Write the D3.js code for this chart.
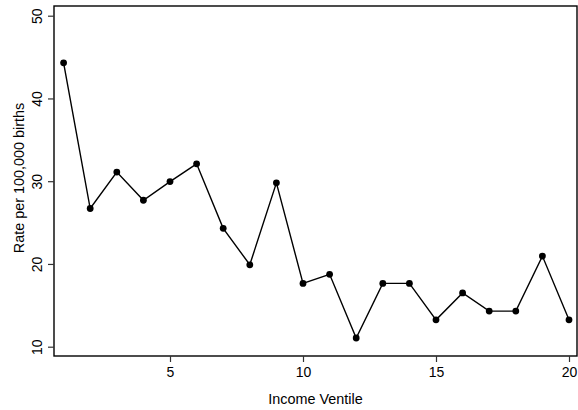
<!DOCTYPE html>
<html>
<head>
<meta charset="utf-8">
<script src="https://cdn.jsdelivr.net/npm/d3@7"></script>
<style>
html,body{margin:0;padding:0;background:#fff;}
svg{display:block;}
text{font-family:"Liberation Sans",Arial,Helvetica,sans-serif;fill:#000;}
</style>
</head>
<body>
<svg id="chart" width="578" height="410"></svg>
<script>
const ventiles = [1,2,3,4,5,6,7,8,9,10,11,12,13,14,15,16,17,18,19,20];
const rates = [44.3,26.7,31.1,27.7,29.95,32.1,24.3,19.9,29.8,17.65,18.75,11.05,17.65,17.65,13.25,16.5,14.3,14.3,20.95,13.25];
const xTicks = [5,10,15,20];
const yTicks = [10,20,30,40,50];
const xTitle = "Income Ventile";
const yTitle = "Rate per 100,000 births";

const svg = d3.select("#chart");
const plotL = 54, plotR = 577, plotT = 6, plotB = 356;

const x = d3.scaleLinear().domain([5,20]).range([170,569]);
const y = d3.scaleLinear().domain([10,50]).range([346.7,15.7]);

// frame
svg.append("rect")
  .attr("x", plotL).attr("y", plotT)
  .attr("width", plotR-plotL).attr("height", plotB-plotT)
  .attr("fill","none").attr("stroke","#000").attr("stroke-width",1.4);

// y axis
const yAxis = svg.append("g").attr("transform",`translate(${plotL},0)`)
  .call(d3.axisLeft(y).tickValues(yTicks).tickSize(6).tickFormat(d3.format("d")));
yAxis.select(".domain").remove();
yAxis.selectAll(".tick line").attr("stroke","#333").attr("stroke-width",1.2);
yAxis.selectAll(".tick text")
  .attr("x",null).attr("dy",null)
  .attr("transform","translate(-12,0) rotate(-90)")
  .attr("text-anchor","middle")
  .style("font-size","14px")
  .style("font-family","'Liberation Sans',Arial,sans-serif");

// x axis
const xAxis = svg.append("g").attr("transform",`translate(0,${plotB})`)
  .call(d3.axisBottom(x).tickValues(xTicks).tickSize(6).tickFormat(d3.format("d")));
xAxis.select(".domain").remove();
xAxis.selectAll(".tick line").attr("stroke","#333").attr("stroke-width",1.2);
xAxis.selectAll(".tick text")
  .attr("y",21).attr("dy",null)
  .style("font-size","14px")
  .style("font-family","'Liberation Sans',Arial,sans-serif");

// titles
svg.append("text").attr("x",(plotL+plotR)/2).attr("y",404)
  .attr("text-anchor","middle").style("font-size","14.4px").text(xTitle);
svg.append("text").attr("transform",`translate(23.5,178) rotate(-90)`)
  .attr("text-anchor","middle").style("font-size","14.4px").text(yTitle);

// line
const line = d3.line().x((d,i)=>x(ventiles[i])).y(d=>y(d));
svg.append("path").datum(rates)
  .attr("d",line).attr("fill","none").attr("stroke","#000").attr("stroke-width",1.4);

svg.selectAll("circle.pt").data(rates).enter().append("circle")
  .attr("class","pt")
  .attr("cx",(d,i)=>x(ventiles[i])).attr("cy",d=>y(d)).attr("r",3.4)
  .attr("fill","#000");
</script>
</body>
</html>
